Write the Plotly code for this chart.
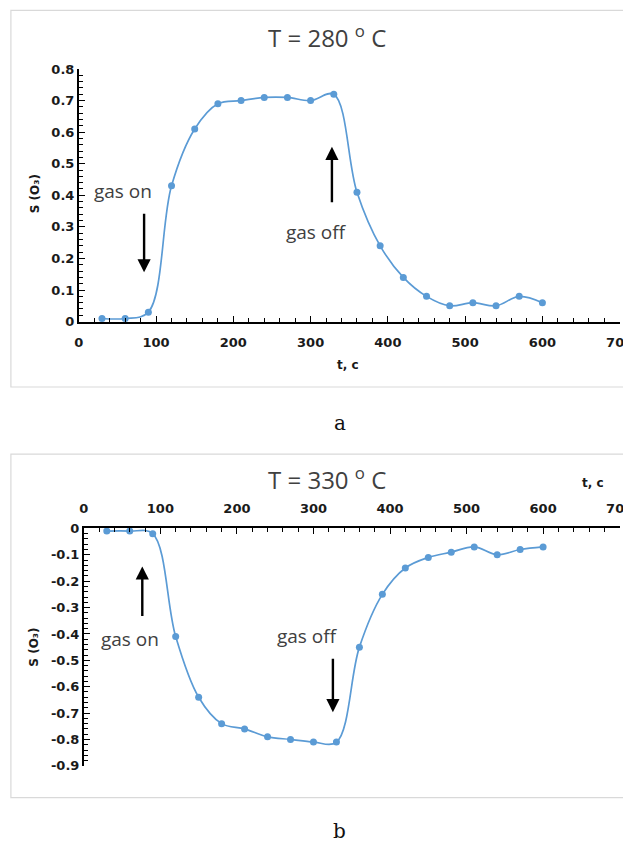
import plotly.graph_objects as go

W, H = 645, 843
# empirical screen mapping correction: screen = A * fig + B
AX, BX = 0.969, 12.6
AY, BY = 0.9813, 15.35

# ---- data ----
t_s = [30, 60, 90, 120, 150, 180, 210, 240, 270, 300, 330, 360, 390, 420, 450, 480, 510, 540, 570, 600]
s_280 = [0.01, 0.01, 0.03, 0.43, 0.61, 0.69, 0.70, 0.71, 0.71, 0.70, 0.72, 0.41, 0.24, 0.14, 0.08, 0.05, 0.06, 0.05, 0.08, 0.06]
s_330 = [-0.01, -0.01, -0.02, -0.41, -0.64, -0.74, -0.76, -0.79, -0.80, -0.81, -0.81, -0.45, -0.25, -0.15, -0.11, -0.09, -0.07, -0.10, -0.08, -0.07]
x_ticks = [0, 100, 200, 300, 400, 500, 600, 700]
y_ticks_a = [0, 0.1, 0.2, 0.3, 0.4, 0.5, 0.6, 0.7, 0.8]
y_text_a = ["0", "0.1", "0.2", "0.3", "0.4", "0.5", "0.6", "0.7", "0.8"]
y_ticks_b = [0, -0.1, -0.2, -0.3, -0.4, -0.5, -0.6, -0.7, -0.8, -0.9]
y_text_b = ["0", "-0.1", "-0.2", "-0.3", "-0.4", "-0.5", "-0.6", "-0.7", "-0.8", "-0.9"]

LINE = "#5B9BD5"
TXT = "#404040"


def px_x(p):
    return min(1.0, ((p - BX) / AX) / W)


def px_y(p):
    return max(0.0, 1 - ((p - BY) / AY) / H)


fig = go.Figure()
for xs, ys, xa, ya in [(t_s, s_280, "x", "y"), (t_s, s_330, "x2", "y2")]:
    fig.add_trace(go.Scatter(
        x=xs, y=ys, mode="lines+markers", xaxis=xa, yaxis=ya,
        line=dict(shape="spline", smoothing=1, color=LINE, width=1.7),
        marker=dict(size=7, color=LINE), cliponaxis=False, showlegend=False,
    ))

tickfont = dict(family="DejaVu Sans", size=13, color="#1a1a1a", weight="bold")

common_x = dict(
    range=[0, 700], tickmode="array", tickvals=x_ticks, ticktext=[str(v) for v in x_ticks],
    ticks="inside", ticklen=6, tickwidth=1.3, tickcolor="black",
    minor=dict(dtick=20, tick0=0, ticks="inside", ticklen=4, tickwidth=1, tickcolor="black", showgrid=False),
    showline=True, linecolor="black", linewidth=1.6, showgrid=False, zeroline=False,
    tickfont=tickfont, fixedrange=True, ticklabeloverflow="allow",
)
common_y = dict(
    ticks="inside", ticklen=6, tickwidth=1.3, tickcolor="black",
    minor=dict(dtick=0.02, tick0=0, ticks="inside", ticklen=4, tickwidth=1, tickcolor="black", showgrid=False),
    showline=True, linecolor="black", linewidth=1.6, showgrid=False, zeroline=False,
    tickfont=tickfont, fixedrange=True, tickmode="array",
)

fig.update_layout(
    width=W, height=H, margin=dict(l=0, r=0, t=0, b=0),
    paper_bgcolor="white", plot_bgcolor="rgba(0,0,0,0)",
    xaxis=dict(common_x, domain=[px_x(78.3), px_x(618.3)], anchor="y", ticklabelstandoff=8),
    yaxis=dict(common_y, domain=[px_y(321.7), px_y(69.3)], range=[0, 0.8], anchor="x",
               tickvals=y_ticks_a, ticktext=y_text_a),
    xaxis2=dict(common_x, domain=[px_x(83.3), px_x(618.3)], anchor="y2", side="top", ticklabelstandoff=8),
    yaxis2=dict(common_y, domain=[px_y(765.5), px_y(528.3)], range=[-0.9, 0], anchor="x2",
                tickvals=y_ticks_b, ticktext=y_text_b),
    shapes=[
        dict(type="rect", xref="paper", yref="paper", x0=px_x(10.5), x1=1.05, y0=px_y(387), y1=px_y(10.7),
             line=dict(color="#d9d9d9", width=1.2)),
        dict(type="rect", xref="paper", yref="paper", x0=px_x(10.5), x1=1.05, y0=px_y(797.3), y1=px_y(454),
             line=dict(color="#d9d9d9", width=1.2)),
    ],
)

ann = []


def ptext(text, x, y, size, family="Open Sans", color=TXT, bold=False, angle=0):
    ann.append(dict(text=text, x=px_x(x), y=px_y(y), xref="paper", yref="paper",
                    xanchor="center", yanchor="middle", showarrow=False, textangle=angle,
                    font=dict(family=family, size=size, color=color, weight="bold" if bold else "normal")))


# titles
ptext("T = 280 <sup>o</sup> C", 326, 37, 24)
ptext("T = 330 <sup>o</sup> C", 326, 478, 24)
# axis titles
ptext("t, c", 347, 365, 12, family="DejaVu Sans", color="#1a1a1a", bold=True)
ptext("t, c", 592, 483, 12, family="DejaVu Sans", color="#1a1a1a", bold=True)
ptext("S (O₃)", 34, 194, 12, family="DejaVu Sans", color="#1a1a1a", bold=True, angle=-90)
ptext("S (O₃)", 34, 647, 12, family="DejaVu Sans", color="#1a1a1a", bold=True, angle=-90)
# panel letters
ptext("a", 339, 423, 20, family="DejaVu Serif", color="#111")
ptext("b", 339, 831, 20, family="DejaVu Serif", color="#111")


# gas on / off labels (data coordinates)
def dtext(text, x, y, xa, ya):
    ann.append(dict(text=text, x=x, y=y, xref=xa, yref=ya, showarrow=False,
                    xanchor="center", yanchor="middle",
                    font=dict(family="Open Sans", size=19, color=TXT)))


def arrow(x, y, ay, xa, ya):
    ann.append(dict(text="", x=x, y=y, xref=xa, yref=ya, ax=0, ay=ay, axref="pixel", ayref="pixel",
                    showarrow=True, arrowhead=2, arrowsize=1.1, arrowwidth=2.4, arrowcolor="black"))


dtext("gas on", 57.4, 0.414, "x", "y")
dtext("gas off", 306.8, 0.283, "x", "y")
arrow(84.5, 0.156, -60, "x", "y")
arrow(327.6, 0.554, 57, "x", "y")

dtext("gas on", 60.4, -0.421, "x2", "y2")
dtext("gas off", 291.1, -0.406, "x2", "y2")
arrow(76.4, -0.144, 51, "x2", "y2")
arrow(325.4, -0.697, -55, "x2", "y2")

fig.update_layout(annotations=ann)
fig.write_html("out.html")
